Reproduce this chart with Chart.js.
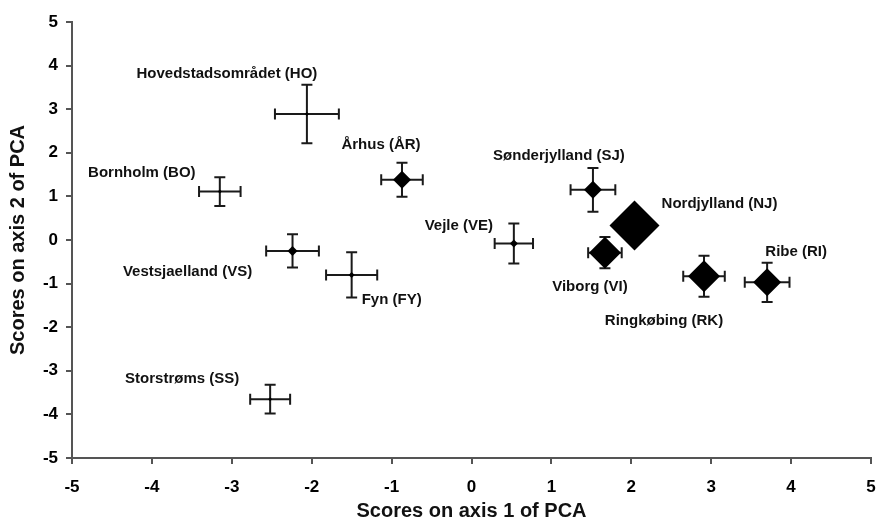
<!DOCTYPE html>
<html>
<head>
<meta charset="utf-8">
<script src="https://cdn.jsdelivr.net/npm/chart.js@4.4.1/dist/chart.umd.min.js"></script>
<style>
  html, body { margin: 0; padding: 0; background: #fff; }
</style>
</head>
<body>
<canvas id="myChart" width="876" height="525"></canvas>
<script>
// danish counties, PCA scores (axis 1 / axis 2) with standard errors
const regions = ['Hovedstadsområdet (HO)', 'Bornholm (BO)', 'Århus (ÅR)', 'Vestsjaelland (VS)', 'Fyn (FY)',
  'Storstrøms (SS)', 'Vejle (VE)', 'Sønderjylland (SJ)', 'Nordjylland (NJ)', 'Viborg (VI)', 'Ringkøbing (RK)', 'Ribe (RI)'];
const axis1 = [-2.06, -3.15, -0.87, -2.24, -1.50, -2.52, 0.53, 1.52, 2.04, 1.67, 2.91, 3.70];
const axis2 = [2.89, 1.11, 1.38, -0.25, -0.80, -3.65, -0.08, 1.15, 0.33, -0.29, -0.83, -0.97];
const err1 = [0.40, 0.26, 0.26, 0.33, 0.32, 0.25, 0.24, 0.28, 0.18, 0.21, 0.26, 0.28];
const err2 = [0.67, 0.33, 0.39, 0.38, 0.52, 0.33, 0.46, 0.50, 0.30, 0.36, 0.47, 0.45];
const xTicks = [-5, -4, -3, -2, -1, 0, 1, 2, 3, 4, 5];
const yTicks = [-5, -4, -3, -2, -1, 0, 1, 2, 3, 4, 5];

// marker size (px) and where each name sits relative to its point
const markerSize = [2, 2, 9, 5, 3, 2, 4, 9, 25, 16, 16, 14];
const labelDx = [-80, -78, -21, -105, 40, -88, -55, -34, 85, -15, -40, 29];
const labelDy = [-40, -19, -35, 21, 25, -20, -18, -34, -22, 34, 45, -30];

const FONT = "'Liberation Sans', Arial, sans-serif";
const AXIS_COLOR = '#555';

const errorBars = {
  id: 'errorBars',
  beforeDatasetsDraw(chart) {
    const { ctx, scales: { x, y } } = chart;
    const cap = 5.5;
    ctx.save();
    ctx.strokeStyle = '#1a1a1a';
    ctx.lineWidth = 2;
    axis1.forEach((v, i) => {
      const px = x.getPixelForValue(v);
      const py = y.getPixelForValue(axis2[i]);
      const x0 = x.getPixelForValue(v - err1[i]);
      const x1 = x.getPixelForValue(v + err1[i]);
      const y0 = y.getPixelForValue(axis2[i] - err2[i]);
      const y1 = y.getPixelForValue(axis2[i] + err2[i]);
      ctx.beginPath();
      ctx.moveTo(x0, py); ctx.lineTo(x1, py);
      ctx.moveTo(x0, py - cap); ctx.lineTo(x0, py + cap);
      ctx.moveTo(x1, py - cap); ctx.lineTo(x1, py + cap);
      ctx.moveTo(px, y0); ctx.lineTo(px, y1);
      ctx.moveTo(px - cap, y0); ctx.lineTo(px + cap, y0);
      ctx.moveTo(px - cap, y1); ctx.lineTo(px + cap, y1);
      ctx.stroke();
    });
    ctx.restore();
  }
};

const pointLabels = {
  id: 'pointLabels',
  afterDatasetsDraw(chart) {
    const { ctx, scales: { x, y } } = chart;
    ctx.save();
    ctx.font = 'bold 15px ' + FONT;
    ctx.fillStyle = '#111';
    ctx.textAlign = 'center';
    ctx.textBaseline = 'middle';
    regions.forEach((name, i) => {
      const px = x.getPixelForValue(axis1[i]);
      const py = y.getPixelForValue(axis2[i]);
      ctx.fillText(name, px + labelDx[i], py + labelDy[i]);
    });
    ctx.restore();
  }
};

const myChart = new Chart(document.getElementById('myChart'), {
  type: 'scatter',
  data: {
    datasets: [{
      label: 'PCA',
      data: axis1.map((v, i) => ({ x: v, y: axis2[i] })),
      pointStyle: 'rectRot',
      pointRadius: markerSize,
      pointBorderWidth: 0,
      backgroundColor: '#000',
      borderColor: '#000'
    }]
  },
  options: {
    responsive: false,
    animation: false,
    devicePixelRatio: 1,
    // no auto padding, otherwise the big NJ marker pushes the plot area in
    layout: { autoPadding: false, padding: { top: 22, right: 5, left: 0, bottom: 0 } },
    plugins: {
      legend: { display: false },
      tooltip: { enabled: false }
    },
    scales: {
      x: {
        type: 'linear',
        min: -5,
        max: 5,
        afterBuildTicks: s => { s.ticks = xTicks.map(v => ({ value: v })); },
        afterFit: s => { s.height = 67; s.paddingLeft = 0; s.paddingRight = 0; },
        grid: { drawOnChartArea: false, drawTicks: true, tickLength: 6, color: AXIS_COLOR, lineWidth: 2 },
        border: { display: true, color: AXIS_COLOR, width: 2 },
        ticks: { color: '#000', padding: 13, font: { family: FONT, size: 17, weight: 'bold' } },
        title: {
          display: true,
          text: 'Scores on axis 1 of PCA',
          color: '#111',
          font: { family: FONT, size: 20, weight: 'bold' },
          padding: { top: 0, bottom: 2 }
        }
      },
      y: {
        type: 'linear',
        min: -5,
        max: 5,
        afterBuildTicks: s => { s.ticks = yTicks.map(v => ({ value: v })); },
        afterFit: s => { s.width = 72; s.paddingTop = 0; s.paddingBottom = 0; },
        grid: { drawOnChartArea: false, drawTicks: true, tickLength: 6, color: AXIS_COLOR, lineWidth: 2 },
        border: { display: true, color: AXIS_COLOR, width: 2 },
        ticks: { color: '#000', padding: 8, font: { family: FONT, size: 17, weight: 'bold' } },
        title: {
          display: true,
          text: 'Scores on axis 2 of PCA',
          color: '#111',
          font: { family: FONT, size: 20, weight: 'bold' },
          padding: { top: 6, bottom: 0 }
        }
      }
    }
  },
  plugins: [errorBars, pointLabels]
});
</script>
</body>
</html>
